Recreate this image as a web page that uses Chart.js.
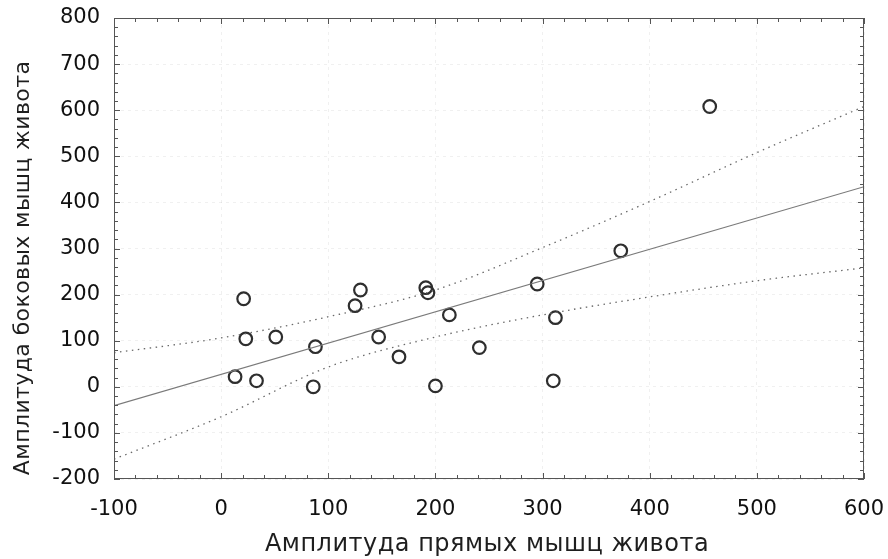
<!DOCTYPE html>
<html>
<head>
<meta charset="utf-8">
<script src="https://cdn.jsdelivr.net/npm/chart.js@4.4.1/dist/chart.umd.min.js"></script>
<style>
  html, body { margin: 0; padding: 0; background: #fff; }
  #wrap { width: 888px; height: 559px; }
</style>
</head>
<body>
<div id="wrap"><canvas id="c" width="888" height="559"></canvas></div>
<script>
// Observations: rectus amplitude (x) vs lateral amplitude (y)
const obsX = [13, 21, 23, 33, 51, 88, 86, 125, 130, 147, 166, 191, 193, 213, 241, 200, 295, 312, 310, 373, 456];
const obsY = [22, 191, 104, 13, 108, 87, 0, 176, 210, 108, 65, 215, 204, 156, 85, 2, 223, 150, 13, 295, 608];

// Fitted regression line
const fitX = [-100, 600];
const fitY = [-41, 434];

// 95% confidence band
const bandX = [-100, 0, 100, 200, 300, 400, 500, 600];
const upperY = [74, 106, 152, 210, 302, 402, 508, 608];
const lowerY = [-157, -65, 43, 108, 156, 195, 230, 258];

// Axis ticks
const xTicks = [-100, 0, 100, 200, 300, 400, 500, 600];
const yTicks = [-200, -100, 0, 100, 200, 300, 400, 500, 600, 700, 800];

const xTitle = 'Амплитуда прямых мышц живота';
const yTitle = 'Амплитуда боковых мышц живота';

const pairs = (xs, ys) => xs.map((x, i) => ({ x: x, y: ys[i] }));

// Frame, inward major/minor ticks on all four sides, and axis titles
const framePlugin = {
  id: 'frame',
  afterDatasetsDraw(chart) {
    const { ctx, chartArea: a, scales } = chart;
    const xs = scales.x, ys = scales.y;
    ctx.save();
    ctx.strokeStyle = '#555';
    ctx.lineWidth = 1;
    ctx.strokeRect(a.left + 0.5, a.top + 0.5, a.right - a.left - 1, a.bottom - a.top - 1);
    ctx.beginPath();
    for (let v = xs.min; v <= xs.max; v += 20) {
      const px = Math.round(xs.getPixelForValue(v)) + 0.5;
      const len = (v % 100 === 0) ? 6 : 4;
      ctx.moveTo(px, a.bottom); ctx.lineTo(px, a.bottom - len);
      ctx.moveTo(px, a.top); ctx.lineTo(px, a.top + len);
    }
    for (let v = ys.min; v <= ys.max; v += 20) {
      const py = Math.round(ys.getPixelForValue(v)) + 0.5;
      const len = (v % 100 === 0) ? 6 : 4;
      ctx.moveTo(a.left, py); ctx.lineTo(a.left + len, py);
      ctx.moveTo(a.right, py); ctx.lineTo(a.right - len, py);
    }
    ctx.stroke();
    ctx.restore();
  },
  afterDraw(chart) {
    const { ctx, chartArea: a } = chart;
    ctx.save();
    ctx.fillStyle = '#1e1e1e';
    ctx.textAlign = 'center';
    ctx.textBaseline = 'middle';
    ctx.font = '24px "DejaVu Sans", sans-serif';
    ctx.letterSpacing = '0.5px';
    ctx.fillText(xTitle, (a.left + a.right) / 2 - 2, 545);
    ctx.translate(23, 268);
    ctx.rotate(-Math.PI / 2);
    ctx.font = '22px "DejaVu Sans", sans-serif';
    ctx.letterSpacing = '0.4px';
    ctx.fillText(yTitle, 0, 0);
    ctx.restore();
  }
};

const tickFont = { family: '"DejaVu Sans", sans-serif', size: 21 };

new Chart(document.getElementById('c'), {
  type: 'scatter',
  data: {
    datasets: [
      {
        label: 'upper',
        type: 'line',
        data: pairs(bandX, upperY),
        borderColor: '#6a6a6a',
        borderWidth: 1.3,
        borderDash: [1.5, 4.5],
        pointRadius: 0,
        fill: false,
        cubicInterpolationMode: 'monotone'
      },
      {
        label: 'lower',
        type: 'line',
        data: pairs(bandX, lowerY),
        borderColor: '#6a6a6a',
        borderWidth: 1.3,
        borderDash: [1.5, 4.5],
        pointRadius: 0,
        fill: false,
        cubicInterpolationMode: 'monotone'
      },
      {
        label: 'fit',
        type: 'line',
        data: pairs(fitX, fitY),
        borderColor: '#7a7a7a',
        borderWidth: 1.2,
        pointRadius: 0,
        fill: false
      },
      {
        label: 'obs',
        data: pairs(obsX, obsY),
        pointStyle: 'circle',
        pointRadius: 6.3,
        pointBorderWidth: 2.2,
        borderColor: '#2e2e2e',
        backgroundColor: 'rgba(255,255,255,0)'
      }
    ]
  },
  options: {
    responsive: false,
    animation: false,
    layout: { padding: { top: 18, right: 24, left: 0, bottom: 0 } },
    plugins: { legend: { display: false }, tooltip: { enabled: false } },
    scales: {
      x: {
        type: 'linear',
        min: -100,
        max: 600,
        afterBuildTicks: s => { s.ticks = xTicks.map(v => ({ value: v })); },
        afterFit: s => { s.height = 80; s.paddingLeft = 0; s.paddingRight = 0; },
        ticks: { font: tickFont, color: '#111', padding: 18, maxRotation: 0, autoSkip: false },
        grid: { color: 'rgba(0,0,0,0.06)', drawTicks: false },
        border: { display: false, dash: [3, 4] }
      },
      y: {
        type: 'linear',
        min: -200,
        max: 800,
        afterBuildTicks: s => { s.ticks = yTicks.map(v => ({ value: v })); },
        afterFit: s => { s.width = 114; s.paddingTop = 0; s.paddingBottom = 0; },
        ticks: { font: tickFont, color: '#111', padding: 14, autoSkip: false },
        grid: { color: 'rgba(0,0,0,0.06)', drawTicks: false },
        border: { display: false, dash: [3, 4] }
      }
    }
  },
  plugins: [framePlugin]
});
</script>
</body>
</html>
